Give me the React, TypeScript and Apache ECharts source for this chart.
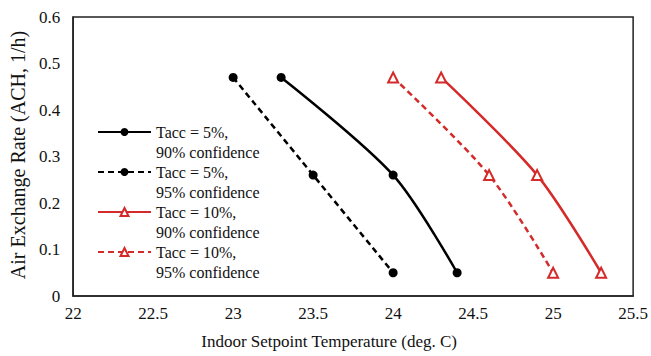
import React, { useEffect, useRef } from "react";
import * as echarts from "echarts";

const seriesNames = [
  "Tacc = 5%,\n90% confidence",
  "Tacc = 5%,\n95% confidence",
  "Tacc = 10%,\n90% confidence",
  "Tacc = 10%,\n95% confidence",
];
const ach = [0.47, 0.26, 0.05];
const temp5_90 = [23.3, 24.0, 24.4];
const temp5_95 = [23.0, 23.5, 24.0];
const temp10_90 = [24.3, 24.9, 25.3];
const temp10_95 = [24.0, 24.6, 25.0];
const xTicks = [22, 22.5, 23, 23.5, 24, 24.5, 25, 25.5];
const yTicks = [0, 0.1, 0.2, 0.3, 0.4, 0.5, 0.6];

const BLACK = "#000000";
const RED = "#d42a2a";
const FONT = "Liberation Serif";

export default function App() {
  const ref = useRef<HTMLDivElement>(null);
  useEffect(() => {
    if (!ref.current) return;
    const chart = echarts.init(ref.current, null, { renderer: "svg" });
    const pair = (xs: number[]) => xs.map((x, i) => [x, ach[i]]);
    const mk = (
      name: string,
      xs: number[],
      color: string,
      dashed: boolean,
      tri: boolean
    ) => ({
      name,
      type: "line",
      data: pair(xs),
      smooth: 0.3,
      symbol: tri ? "triangle" : "circle",
      symbolSize: tri ? 10 : 9,
      lineStyle: { color, width: 2.5, type: dashed ? [6, 4] : "solid" },
      itemStyle: tri
        ? { color: "#ffffff", borderColor: color, borderWidth: 2 }
        : { color, borderColor: color, borderWidth: 0 },
    });
    chart.setOption({
      animation: false,
      textStyle: { fontFamily: FONT },
      grid: {
        left: 73,
        right: 14,
        top: 17,
        bottom: 60,
        show: true,
        borderColor: "#222",
        borderWidth: 1.5,
        containLabel: false,
      },
      legend: {
        left: 97,
        top: 102,
        padding: 0,
        orient: "vertical",
        itemWidth: 53,
        itemHeight: 10,
        itemGap: -20,
        data: seriesNames,
        formatter: (name: string) => "\n" + name,
        textStyle: {
          fontFamily: FONT,
          fontSize: 16,
          lineHeight: 20,
          color: "#111",
        },
      },
      xAxis: {
        type: "value",
        min: 22,
        max: 25.5,
        interval: 0.5,
        name: "Indoor Setpoint Temperature (deg. C)",
        nameLocation: "middle",
        nameGap: 37,
        nameTextStyle: {
          fontFamily: FONT,
          fontSize: 17,
          color: "#111",
          padding: [0, 48, 0, 0],
        },
        axisLine: { show: true, lineStyle: { color: "#222", width: 1.5 } },
        axisTick: { show: false },
        splitLine: { show: false },
        axisLabel: {
          fontFamily: FONT,
          fontSize: 17,
          color: "#111",
          margin: 9,
          formatter: (v: number) => (xTicks.includes(v) ? String(v) : ""),
        },
      },
      yAxis: {
        type: "value",
        min: 0,
        max: 0.6,
        interval: 0.1,
        name: "Air Exchange Rate (ACH, 1/h)",
        nameLocation: "middle",
        nameGap: 44,
        nameTextStyle: {
          fontFamily: FONT,
          fontSize: 20,
          color: "#111",
          padding: [0, 0, 0, 3],
        },
        axisLine: { show: true, lineStyle: { color: "#222", width: 1.5 } },
        axisTick: { show: false },
        splitLine: { show: false },
        axisLabel: {
          fontFamily: FONT,
          fontSize: 17,
          color: "#111",
          margin: 13,
          formatter: (v: number) => {
            const t = yTicks.find((y) => Math.abs(y - v) < 1e-9);
            return t === undefined ? "" : String(t);
          },
        },
      },
      series: [
        mk(seriesNames[0], temp5_90, BLACK, false, false),
        mk(seriesNames[1], temp5_95, BLACK, true, false),
        mk(seriesNames[2], temp10_90, RED, false, true),
        mk(seriesNames[3], temp10_95, RED, true, true),
      ],
    });
    return () => chart.dispose();
  }, []);
  return (
    <div
      ref={ref}
      style={{ position: "absolute", left: 0, top: 0, width: 651, height: 356 }}
    />
  );
}
